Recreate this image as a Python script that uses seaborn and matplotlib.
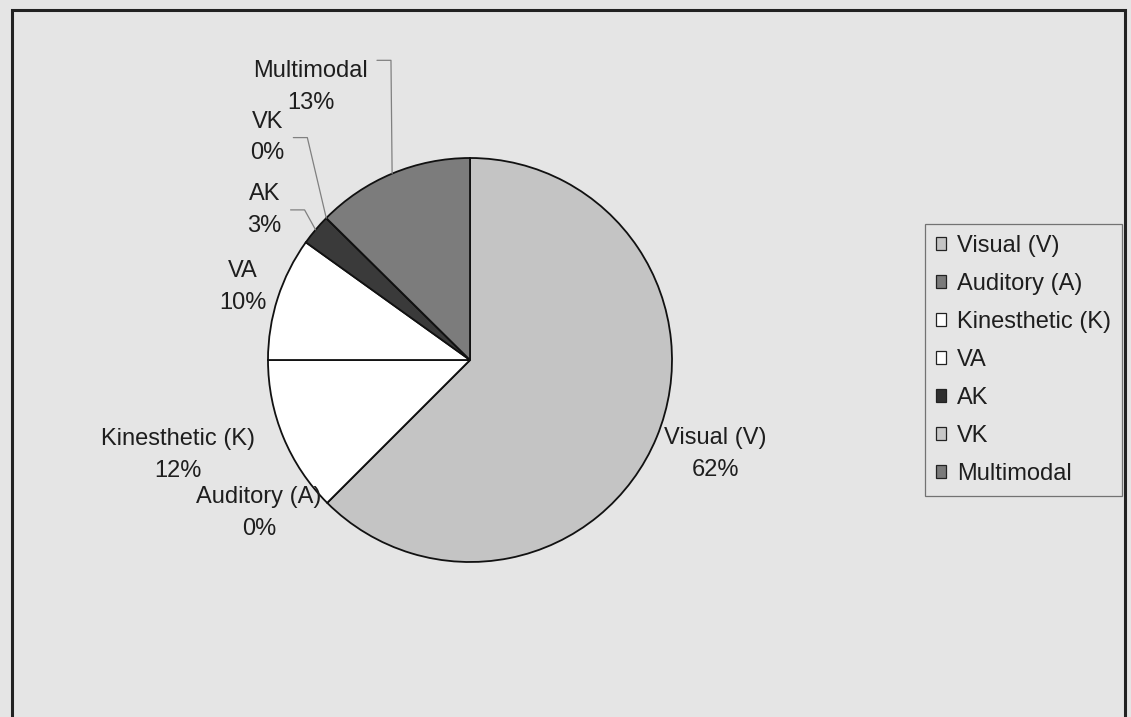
import numpy as np
import matplotlib
matplotlib.use("Agg")
import matplotlib.pyplot as plt
from matplotlib.patches import Patch, Rectangle
import seaborn as sns

# data (percent of respondents)
categories = ["Visual (V)", "Auditory (A)", "Kinesthetic (K)", "VA", "AK", "VK", "Multimodal"]
shares = [62.5, 0.0, 12.5, 9.9, 2.5, 0.0, 12.6]
pct_labels = ["62%", "0%", "12%", "10%", "3%", "0%", "13%"]

# greys used by the original (scanned) chart
colors = ["#c4c4c4", "#8a8a8a", "#ffffff", "#ffffff", "#3a3a3a", "#c4c4c4", "#7c7c7c"]
legend_colors = ["#c4c4c4", "#7a7a7a", "#ffffff", "#ffffff", "#303030", "#c8c8c8", "#7a7a7a"]

# label placement: (distance in radii, angle nudge in degrees) per slice
label_place = [(1.30, 1.5), (1.29, -9), (1.52, -4.5), (1.18, 0), (1.26, 4), (1.49, -3.0), (1.565, 7.6)]
# leader line attach point on the label box (fraction of height), None = no leader
leader = [None, None, None, None, 0.5, 0.5, 1.0]

sns.set_theme(style="white")
plt.rcParams["font.family"] = ["Liberation Sans", "DejaVu Sans"]

W, H = 1131, 717
bg = "#e5e5e5"
fig = plt.figure(figsize=(W / 100, H / 100), dpi=100, facecolor=bg)
ax = fig.add_axes([0, 0, 1, 1])
ax.set_facecolor(bg)
ax.axis("off")

cx, cy, R = 470, H - 360, 202
wedges, _ = ax.pie(shares, colors=colors, startangle=90, counterclock=False,
                   center=(cx, cy), radius=R, normalize=True,
                   wedgeprops=dict(edgecolor="#111111", linewidth=1.3))
ax.set_xlim(0, W)
ax.set_ylim(0, H)
ax.set_aspect("equal")

fs = 17
texts = []
for w, cat, pct, (dist, nudge) in zip(wedges, categories, pct_labels, label_place):
    mid = np.deg2rad((w.theta1 + w.theta2) / 2)
    ang = mid + np.deg2rad(nudge)
    tx = cx + R * dist * np.cos(ang)
    ty = cy + R * dist * np.sin(ang)
    t = ax.text(tx, ty, f"{cat}\n{pct}", ha="center", va="center", fontsize=fs,
                color="#1e1e1e", linespacing=1.55)
    texts.append(t)

# leader lines from the slice edge to the label box
fig.canvas.draw()
inv = ax.transData.inverted()
for w, t, frac in zip(wedges, texts, leader):
    if frac is None:
        continue
    mid = np.deg2rad((w.theta1 + w.theta2) / 2)
    px = cx + R * np.cos(mid)
    py = cy + R * np.sin(mid)
    bb = t.get_window_extent()
    (x0, y0), (x1, y1) = inv.transform([(bb.x0, bb.y0), (bb.x1, bb.y1)])
    ey = y0 + frac * (y1 - y0)
    ax.plot([x1 + 9, x1 + 23, px], [ey, ey, py], color="#808080", lw=0.9)

handles = [Patch(facecolor=c, edgecolor="#222222", linewidth=0.9) for c in legend_colors]
leg = fig.legend(handles, categories, loc="upper left",
                 bbox_to_anchor=(925 / W, 1 - 224 / H), bbox_transform=fig.transFigure,
                 fontsize=fs, frameon=True, fancybox=False, borderaxespad=0,
                 handlelength=0.45, handleheight=0.45, handletextpad=0.45,
                 labelspacing=0.68, borderpad=0.45)
leg.get_frame().set_facecolor(bg)
leg.get_frame().set_edgecolor("#555555")
leg.get_frame().set_linewidth(0.9)
for txt in leg.get_texts():
    txt.set_color("#1e1e1e")

fig.patches.append(Rectangle((12 / W, -0.01), (1125 - 12) / W, 1 - 10 / H + 0.01,
                             transform=fig.transFigure, fill=False,
                             edgecolor="#222222", linewidth=2.2))

fig.savefig("out.png", dpi=100, facecolor=bg)
